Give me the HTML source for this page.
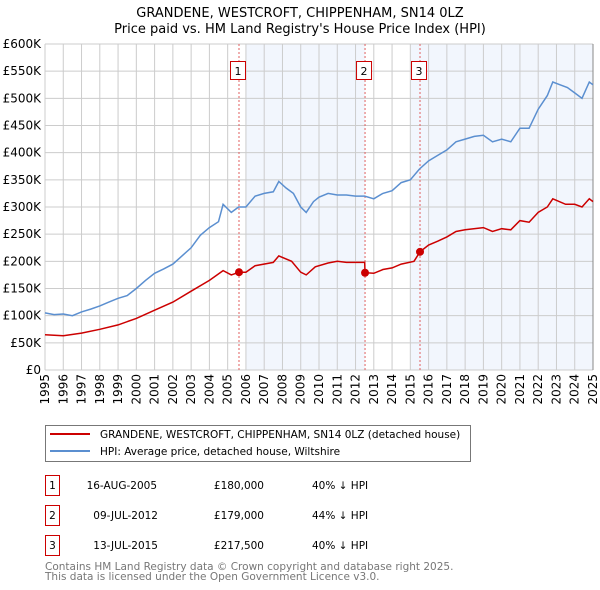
<!DOCTYPE html>
<html><head><meta charset="utf-8"><style>
body{margin:0;background:#fff}
svg{font-family:"DejaVu Sans","Liberation Sans",sans-serif;display:block}
</style></head><body>
<svg id="c" width="600" height="590" viewBox="0 0 600 590">
<text x="300" y="17" text-anchor="middle" font-size="13">GRANDENE, WESTCROFT, CHIPPENHAM, SN14 0LZ</text>
<text x="300" y="33" text-anchor="middle" font-size="13">Price paid vs. HM Land Registry's House Price Index (HPI)</text>
<g id="plot"></g>
<rect x="45.5" y="425.5" width="425" height="36" fill="#fff" stroke="#777"/>
<line x1="50" y1="434" x2="90" y2="434" stroke="#cc0000" stroke-width="2"/>
<text x="100" y="438" font-size="10.5">GRANDENE, WESTCROFT, CHIPPENHAM, SN14 0LZ (detached house)</text>
<line x1="50" y1="451" x2="90" y2="451" stroke="#5b8fd0" stroke-width="2"/>
<text x="100" y="455" font-size="10.5">HPI: Average price, detached house, Wiltshire</text>
<g font-size="10.5">
<rect x="45.5" y="475.5" width="14" height="20" fill="#fff" stroke="#cc0000"/><text x="52.5" y="489" text-anchor="middle">1</text>
<text x="157" y="489" text-anchor="end">16-AUG-2005</text>
<text x="264" y="489" text-anchor="end">£180,000</text>
<text x="312" y="489">40% ↓ HPI</text>
<rect x="45.5" y="505.5" width="14" height="20" fill="#fff" stroke="#cc0000"/><text x="52.5" y="519" text-anchor="middle">2</text>
<text x="158" y="519" text-anchor="end">09-JUL-2012</text>
<text x="264" y="519" text-anchor="end">£179,000</text>
<text x="312" y="519">44% ↓ HPI</text>
<rect x="45.5" y="535.5" width="14" height="20" fill="#fff" stroke="#cc0000"/><text x="52.5" y="549" text-anchor="middle">3</text>
<text x="158" y="549" text-anchor="end">13-JUL-2015</text>
<text x="264" y="549" text-anchor="end">£217,500</text>
<text x="312" y="549">40% ↓ HPI</text>
</g>
<text x="45" y="570" font-size="10.5" fill="#777">Contains HM Land Registry data © Crown copyright and database right 2025.</text>
<text x="45" y="580" font-size="10.5" fill="#777">This data is licensed under the Open Government Licence v3.0.</text>
</svg>
<script>
const yTicks=[0,50,100,150,200,250,300,350,400,450,500,550,600];
const yTickLabels=["£0","£50K","£100K","£150K","£200K","£250K","£300K","£350K","£400K","£450K","£500K","£550K","£600K"];
const xYears=[1995,1996,1997,1998,1999,2000,2001,2002,2003,2004,2005,2006,2007,2008,2009,2010,2011,2012,2013,2014,2015,2016,2017,2018,2019,2020,2021,2022,2023,2024,2025];
const hpiT=[1995,1995.5,1996,1996.5,1997,1997.5,1998,1998.5,1999,1999.5,2000,2000.5,2001,2001.5,2002,2002.5,2003,2003.5,2004,2004.5,2004.75,2005.2,2005.6,2006,2006.5,2007,2007.5,2007.8,2008.2,2008.6,2009,2009.3,2009.7,2010,2010.5,2011,2011.5,2012,2012.5,2013,2013.5,2014,2014.5,2015,2015.5,2016,2016.5,2017,2017.5,2018,2018.5,2019,2019.5,2020,2020.5,2021,2021.5,2022,2022.5,2022.8,2023.2,2023.6,2024,2024.4,2024.8,2025];
const hpiV=[105,102,103,100,107,112,118,125,132,137,150,165,178,186,195,210,225,248,262,273,305,290,300,300,320,325,328,347,335,325,300,290,310,318,325,322,322,320,320,315,325,330,345,350,370,385,395,405,420,425,430,432,420,425,420,445,445,480,505,530,525,520,510,500,530,525];
const priceT=[1995,1996,1997,1998,1999,2000,2001,2002,2003,2004,2004.75,2005.2,2005.62,2006,2006.5,2007.5,2007.8,2008.5,2009,2009.3,2009.8,2010.5,2011,2011.5,2012,2012.5,2012.52,2013,2013.5,2014,2014.5,2015.2,2015.53,2016,2016.5,2017,2017.5,2018,2019,2019.5,2020,2020.5,2021,2021.5,2022,2022.5,2022.8,2023.5,2024,2024.4,2024.8,2025];
const priceV=[65,63,68,75,83,95,110,125,145,165,183,175,180,180,192,198,210,200,180,175,190,197,200,198,198,198,179,178,185,188,195,200,217.5,230,237,245,255,258,262,255,260,258,275,272,290,300,315,305,305,300,315,310];
const saleT=[2005.62,2012.52,2015.53];
const saleV=[180,179,217.5];
const saleLabels=["1","2","3"];
const shadeRanges=[[2006,2012.52],[2015.03,2025]];

const X0=45,X1=593,Y0=370,Y1=44;
const sx=t=>X0+(t-1995)/(2025-1995)*(X1-X0);
const sy=v=>Y0-v/600*(Y0-Y1);
const NS="http://www.w3.org/2000/svg";
const g=document.getElementById('plot');
function mk(tag,attrs,parent){const e=document.createElementNS(NS,tag);for(const k in attrs)e.setAttribute(k,attrs[k]);(parent||g).appendChild(e);return e;}
shadeRanges.forEach(r=>{const e=mk('rect',{x:sx(r[0]),y:Y1,width:sx(r[1])-sx(r[0]),height:Y0-Y1,fill:'#eef3fc',opacity:0.75});

});
yTicks.forEach((v,i)=>{const l=mk('line',{x1:X0,x2:X1,y1:sy(v),y2:sy(v),stroke:'#cccccc'});


const t=mk('text',{x:X0-4,y:sy(v)+4,'text-anchor':'end','font-size':12});t.textContent=yTickLabels[i];

});
xYears.forEach(y=>{const l=mk('line',{x1:sx(y),x2:sx(y),y1:Y1,y2:Y0,stroke:'#cccccc'});


const t=mk('text',{x:0,y:0,'font-size':12,'text-anchor':'end',transform:`translate(${sx(y)+4},${Y0+4}) rotate(-90)`});t.textContent=y;

});
mk('line',{x1:X1,x2:X1,y1:Y1,y2:Y0,stroke:'#888'});
saleT.forEach((t,i)=>{const l=mk('line',{x1:sx(t),x2:sx(t),y1:Y1,y2:Y0,stroke:'#e06060','stroke-dasharray':'2,2'});


const r=mk('rect',{x:sx(t)-8.5,y:61.5,width:15,height:18,fill:'#fff',stroke:'#cc0000'});


const tx=mk('text',{x:sx(t)-1,y:75,'text-anchor':'middle','font-size':11});tx.textContent=saleLabels[i];

});
const pts=(T,V)=>T.map((t,i)=>sx(t).toFixed(1)+','+sy(V[i]).toFixed(1)).join(' ');
const h=mk('polyline',{points:pts(hpiT,hpiV),fill:'none',stroke:'#5b8fd0','stroke-width':1.5});


const p=mk('polyline',{points:pts(priceT,priceV),fill:'none',stroke:'#cc0000','stroke-width':1.5});


saleT.forEach((t,i)=>{const c=mk('circle',{cx:sx(t),cy:sy(saleV[i]),r:4,fill:'#cc0000'});

});
</script>
</body></html>
